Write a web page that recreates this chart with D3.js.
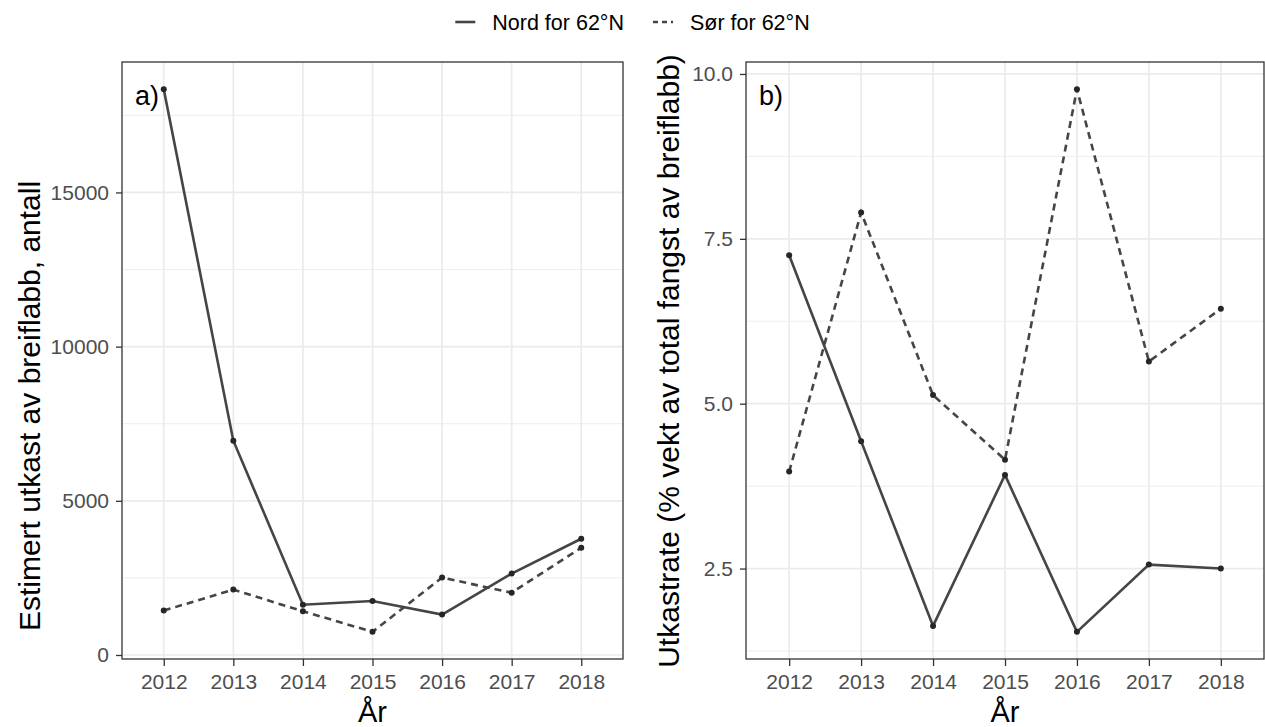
<!DOCTYPE html>
<html>
<head>
<meta charset="utf-8">
<script src="https://cdn.jsdelivr.net/npm/d3@7"></script>
<style>
  body { margin: 0; background: #fff; }
  text { font-family: "Liberation Sans", Arial, sans-serif; }
</style>
</head>
<body>
<div id="chart"></div>
<script>
// data
const years = [2012, 2013, 2014, 2015, 2016, 2017, 2018]
const seriesNames = ["Nord for 62°N", "Sør for 62°N"]
const nordAntall = [18350, 6950, 1630, 1750, 1310, 2640, 3770]
const sorAntall = [1440, 2120, 1420, 750, 2510, 2020, 3480]
const nordRate = [7.25, 4.43, 1.63, 3.92, 1.54, 2.56, 2.50]
const sorRate = [3.97, 7.90, 5.13, 4.15, 9.77, 5.64, 6.44]
const antallTicks = [0, 5000, 10000, 15000]
const antallMinor = [2500, 7500, 12500, 17500]
const rateTicks = [2.5, 5.0, 7.5, 10.0]
const rateMinor = [1.25, 3.75, 6.25, 8.75]

function draw() {
    let dimensions = {
        width: 1265,
        height: 727,
        top: 62,
        bottom: 659,
    }

    const svg = d3.select('#chart')
        .append("svg")
        .attr("width", dimensions.width)
        .attr("height", dimensions.height)

    const lineColor = "#454545"
    const dotColor = "#262626"
    const dashes = "7,5"

    //////////
    // LEGEND //
    //////////
    const legend = svg.append("g")
    const items = legend.selectAll("g")
        .data(seriesNames)
        .join("g")
    items.append("line")
        .attr("x1", 0).attr("x2", 20)
        .attr("y1", 22).attr("y2", 22)
        .attr("stroke", lineColor)
        .attr("stroke-width", 2.6)
        .attr("stroke-dasharray", (d, i) => i == 1 ? "5,4" : null)
    items.append("text")
        .attr("x", 37)
        .attr("y", 29.5)
        .attr("font-size", 21.5)
        .attr("fill", "#000")
        .text(d => d)
    // place the items side by side, centred
    const widths = []
    items.each(function () {
        widths.push(37 + this.querySelector("text").getComputedTextLength())
    })
    const gap = 29
    const offset = (dimensions.width - d3.sum(widths) - gap) / 2
    items.attr("transform", (d, i) => {
        const x = offset + (i == 0 ? 0 : widths[0] + gap)
        return `translate(${x},0)`
    })

    //////////
    // PANELS //
    //////////
    drawPanel({
        left: 122, right: 623, tag: "a)",
        nord: nordAntall, sor: sorAntall,
        ticks: antallTicks, minor: antallMinor,
        fmt: d3.format("d"),
        title: "Estimert utkast av breiflabb, antall",
        titleX: 40, titleY: 406
    })
    drawPanel({
        left: 746, right: 1264, tag: "b)",
        nord: nordRate, sor: sorRate,
        ticks: rateTicks, minor: rateMinor,
        fmt: d3.format(".1f"),
        title: "Utkastrate (% vekt av total fangst av breiflabb)",
        titleX: 679, titleY: 361
    })

    function drawPanel(p) {
        const g = svg.append("g")

        // x: years with 0.6 padding on each side
        const x = d3.scaleLinear()
            .domain([years[0] - 0.6, years[years.length - 1] + 0.6])
            .range([p.left, p.right])

        // y: data range expanded 5%
        const all = p.nord.concat(p.sor)
        const lo = d3.min(all), hi = d3.max(all)
        const pad = (hi - lo) * 0.05
        const y = d3.scaleLinear()
            .domain([lo - pad, hi + pad])
            .range([dimensions.bottom, dimensions.top])

        // grid
        g.append("g").selectAll("line")
            .data(p.minor.filter(v => v > y.domain()[0] && v < y.domain()[1]))
            .join("line")
            .attr("x1", p.left).attr("x2", p.right)
            .attr("y1", d => y(d)).attr("y2", d => y(d))
            .attr("stroke", "#ebebeb").attr("stroke-width", 0.9)
        g.append("g").selectAll("line")
            .data(p.ticks)
            .join("line")
            .attr("x1", p.left).attr("x2", p.right)
            .attr("y1", d => y(d)).attr("y2", d => y(d))
            .attr("stroke", "#ebebeb").attr("stroke-width", 1.7)
        g.append("g").selectAll("line")
            .data(years)
            .join("line")
            .attr("x1", d => x(d)).attr("x2", d => x(d))
            .attr("y1", dimensions.top).attr("y2", dimensions.bottom)
            .attr("stroke", "#ebebeb").attr("stroke-width", 1.7)

        // axes
        const xAxis = g.append("g")
            .attr("transform", `translate(0,${dimensions.bottom})`)
            .call(d3.axisBottom(x).tickValues(years).tickFormat(d3.format("d"))
                .tickSize(7).tickPadding(8))
        const yAxis = g.append("g")
            .attr("transform", `translate(${p.left},0)`)
            .call(d3.axisLeft(y).tickValues(p.ticks).tickFormat(p.fmt)
                .tickSize(6).tickPadding(7))
        for (const ax of [xAxis, yAxis]) {
            ax.select(".domain").remove()
            ax.selectAll(".tick line").attr("stroke", "#333").attr("stroke-width", 1.3)
            ax.selectAll(".tick text")
                .attr("fill", "#4d4d4d")
                .attr("font-size", 21)
                .attr("font-family", "Liberation Sans, Arial, sans-serif")
        }

        // lines
        const line = d3.line()
            .x((d, i) => x(years[i]))
            .y(d => y(d))
        g.append("path")
            .datum(p.nord)
            .attr("d", line)
            .attr("fill", "none")
            .attr("stroke", lineColor)
            .attr("stroke-width", 2.6)
        g.append("path")
            .datum(p.sor)
            .attr("d", line)
            .attr("fill", "none")
            .attr("stroke", lineColor)
            .attr("stroke-width", 2.6)
            .attr("stroke-dasharray", dashes)

        // points
        g.append("g").selectAll("circle")
            .data(p.nord.concat(p.sor))
            .join("circle")
            .attr("cx", (d, i) => x(years[i % years.length]))
            .attr("cy", d => y(d))
            .attr("r", 3)
            .attr("fill", dotColor)

        // border
        g.append("rect")
            .attr("x", p.left).attr("y", dimensions.top)
            .attr("width", p.right - p.left)
            .attr("height", dimensions.bottom - dimensions.top)
            .attr("fill", "none")
            .attr("stroke", "#333")
            .attr("stroke-width", 1.3)

        // tag
        g.append("text")
            .attr("x", p.left + 13)
            .attr("y", 105)
            .attr("font-size", 27)
            .text(p.tag)

        // titles
        g.append("text")
            .attr("x", (p.left + p.right) / 2)
            .attr("y", 722)
            .attr("text-anchor", "middle")
            .attr("font-size", 29)
            .text("År")
        g.append("text")
            .attr("transform", `translate(${p.titleX},${p.titleY}) rotate(-90)`)
            .attr("text-anchor", "middle")
            .attr("font-size", 30)
            .text(p.title)
    }
}
draw()
</script>
</body>
</html>
